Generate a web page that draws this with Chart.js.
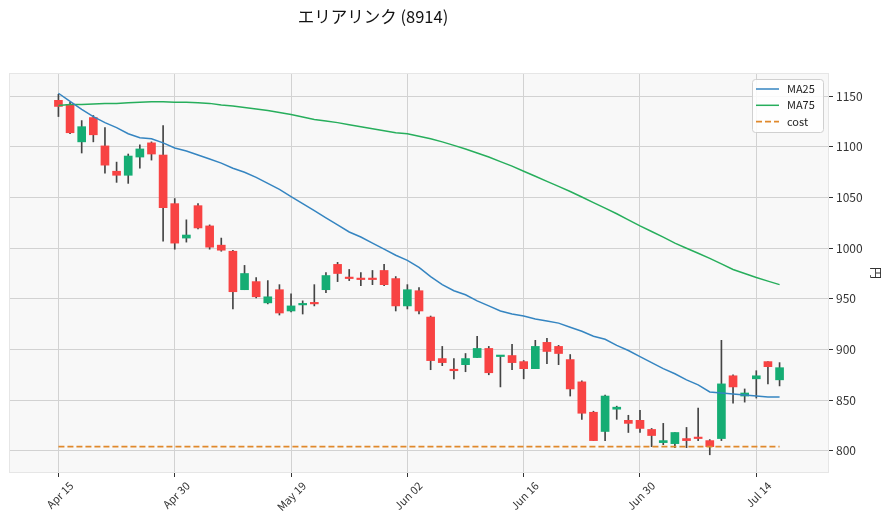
<!DOCTYPE html>
<html><head><meta charset="utf-8">
<script src="https://cdn.jsdelivr.net/npm/chart.js@4.4.1/dist/chart.umd.min.js"></script>
<style>html,body{margin:0;padding:0;background:#fff;}#wrap{width:890px;height:525px;}</style>
</head><body><div id="wrap"><canvas id="c" width="890" height="525"></canvas></div>
<script>
const titleText = 'エリアリンク (8914)';
const yAxisTitle = '円';
const dates = ['Apr 15','Apr 16','Apr 17','Apr 18','Apr 21','Apr 22','Apr 23','Apr 24','Apr 25','Apr 28','Apr 30',
 'May 01','May 07','May 08','May 09','May 12','May 13','May 14','May 15','May 16','May 19',
 'May 20','May 21','May 22','May 23','May 26','May 27','May 28','May 29','May 30','Jun 02',
 'Jun 03','Jun 04','Jun 05','Jun 06','Jun 09','Jun 10','Jun 11','Jun 12','Jun 13','Jun 16',
 'Jun 17','Jun 18','Jun 19','Jun 20','Jun 23','Jun 24','Jun 25','Jun 26','Jun 27','Jun 30',
 'Jul 01','Jul 02','Jul 03','Jul 04','Jul 07','Jul 08','Jul 09','Jul 10','Jul 11','Jul 14','Jul 15','Jul 16'];
const opens  = [1146,1142,1105,1129,1101,1076,1072,1090,1104,1092,1044,1010,1042,1022,1003,997,959,967,946,959,938,944,946,959,984,971,970,970,978,970,943,958,932,891,880,885,892,901,893,894,888,881,907,903,890,868,838,819,841,830,830,821,808,807,812,813,810,812,874,854,871,888,870];
const highs  = [1152,1144,1126,1131,1119,1085,1093,1102,1105,1121,1049,1028,1044,1023,1010,998,983,971,968,964,955,948,964,976,986,979,976,978,984,972,964,961,933,903,891,896,913,903,894,905,889,909,911,904,895,869,839,855,844,835,840,822,827,818,823,842,811,909,875,861,879,888,887];
const lows   = [1130,1113,1094,1105,1074,1065,1064,1079,1087,1007,999,1006,1019,999,997,940,959,951,945,934,937,935,943,956,967,968,963,964,963,938,940,935,880,884,871,878,892,875,863,880,871,881,886,885,854,831,810,810,831,818,818,804,806,803,803,810,796,810,847,848,852,866,864];
const closes = [1140,1114,1120,1112,1082,1072,1091,1098,1093,1040,1005,1013,1020,1001,998,957,975,952,952,936,943,945,945,973,975,970,969,969,964,943,959,938,889,887,879,891,901,877,894,887,881,903,898,896,861,837,810,854,843,827,822,815,810,818,810,812,804,866,863,857,874,883,882];
const ma25 = [1153,1145,1137,1130,1124,1119,1113,1109,1108,1104,1099,1096,1092,1088,1084,1079,1075,1070,1064,1058,1051,1044,1037,1030,1023,1016,1011,1005,999,993,988,981,972,964,958,954,948,943,938,935,933,930,928,926,922,918,913,910,904,899,893,887,881,876,870,865,858,857,856,855,854,853,853];
const ma75 = [1141,1142,1142,1142.5,1143,1143,1143.5,1144,1144.5,1144.5,1144,1144,1143.5,1143,1141.5,1140.5,1139,1137.5,1136,1134,1132,1129.5,1127,1125.5,1124,1122,1120,1118,1116,1114,1113,1110.5,1108,1105,1101.5,1098,1094,1090,1085.5,1081,1076,1071,1066,1061,1056,1050.5,1045,1039.5,1034,1028,1022,1016.5,1011,1005,1000,995,990,984.5,979,975,971,967.5,964];
const cost = 804;
const yTicks = [800,850,900,950,1000,1050,1100,1150];
const xTickIdx = [0,10,20,30,40,50,60];
const seriesLabels = ['MA25','MA75','cost'];

const UP = '#15ad74', DOWN = '#f84343', WICK = '#444444';
const idx = dates.map((d,i)=>i);
const bodyColors = idx.map(i => closes[i] >= opens[i] ? UP : DOWN);
const FONT = '"Noto Sans CJK JP", "Noto Sans", sans-serif';

const bgPlugin = {
  id:'bg',
  beforeDraw(chart){
    const {ctx, chartArea:a} = chart;
    ctx.save();
    ctx.fillStyle='#ffffff'; ctx.fillRect(0,0,chart.width,chart.height);
    ctx.fillStyle='#f8f8f8'; ctx.fillRect(a.left,a.top,a.right-a.left,a.bottom-a.top);
    ctx.restore();
  },
  afterDraw(chart){
    const {ctx, chartArea:a} = chart;
    ctx.save();
    ctx.strokeStyle='#e6e6e6'; ctx.lineWidth=1;
    ctx.strokeRect(Math.round(a.left)+0.5,Math.round(a.top)+0.5,Math.round(a.right-a.left)-1,Math.round(a.bottom-a.top)-1);
    ctx.fillStyle='#111'; ctx.font='16.5px '+FONT; ctx.textAlign='center'; ctx.textBaseline='middle';
    ctx.fillText(titleText, 373, 17);
    const lines = chart.data.datasets.filter(d=>d.type==='line');
    const bx = a.right-77, by = a.top+6, bw = 71, bh = 53;
    ctx.fillStyle='rgba(255,255,255,0.85)'; ctx.strokeStyle='#d0d0d0';
    ctx.beginPath(); ctx.roundRect(bx+0.5,by+0.5,bw,bh,3); ctx.fill(); ctx.stroke();
    ctx.font='11px '+FONT; ctx.textAlign='left'; ctx.textBaseline='middle';
    lines.forEach((d,k)=>{
      const yy = by+10+k*16.3;
      ctx.strokeStyle=d.borderColor; ctx.lineWidth=d.borderWidth; ctx.setLineDash(d.borderDash||[]);
      ctx.beginPath(); ctx.moveTo(bx+4,yy); ctx.lineTo(bx+27,yy); ctx.stroke();
      ctx.setLineDash([]);
      ctx.fillStyle='#222'; ctx.fillText(d.label, bx+35, yy);
    });
    ctx.restore();
  }
};

new Chart(document.getElementById('c'), {
  type:'bar',
  data:{
    datasets:[
      {type:'line', label:seriesLabels[0], data:idx.map(i=>({x:i,y:ma25[i]})), borderColor:'#3585c1', borderWidth:1.5, pointRadius:0, tension:0, order:0},
      {type:'line', label:seriesLabels[1], data:idx.map(i=>({x:i,y:ma75[i]})), borderColor:'#27ae5c', borderWidth:1.5, pointRadius:0, tension:0, order:0},
      {type:'line', label:seriesLabels[2], data:idx.map(i=>({x:i,y:cost})), borderColor:'#e0892c', borderWidth:1.8, borderDash:[6,3], pointRadius:0, order:0},
      {type:'bar', label:'body', data:idx.map(i=>({x:i,y:[opens[i],closes[i]]})), backgroundColor:bodyColors, borderWidth:0, barThickness:8, minBarLength:1.5, grouped:false, order:1},
      {type:'bar', label:'wick', data:idx.map(i=>({x:i,y:[lows[i],highs[i]]})), backgroundColor:WICK, borderWidth:0, barThickness:1, grouped:false, order:2}
    ]
  },
  options:{
    responsive:false, animation:false, devicePixelRatio:1,
    layout:{padding:{top:73,left:9,right:0,bottom:0}},
    plugins:{legend:{display:false}, tooltip:{enabled:false}, title:{display:false}},
    scales:{
      x:{type:'linear', min:-4.25, max:66.25, offset:false,
        afterBuildTicks(s){ s.ticks = xTickIdx.map(v=>({value:v})); },
        afterFit(s){ s.height = 52; },
        grid:{offset:false, color:'#d2d2d2', lineWidth:1, drawTicks:true, tickLength:4, tickColor:'#333'},
        border:{display:false},
        ticks:{autoSkip:false, maxRotation:45, minRotation:45, color:'#333', font:{family:FONT, size:11}, labelOffset:13, padding:2,
          callback:(v)=>dates[v]}
      },
      y:{type:'linear', position:'right', min:778, max:1173,
        afterBuildTicks(s){ s.ticks = yTicks.map(v=>({value:v})); },
        afterFit(s){ s.width = 61; },
        grid:{offset:false, color:'#d2d2d2', lineWidth:1, drawTicks:true, tickLength:4, tickColor:'#333'},
        border:{display:false},
        ticks:{color:'#333', font:{family:FONT, size:12}, padding:3, callback:(v)=>String(v)},
        title:{display:true, text:yAxisTitle, color:'#333', font:{family:FONT, size:12}, padding:{top:7,bottom:0}}
      }
    }
  },
  plugins:[bgPlugin]
});
</script></body></html>
